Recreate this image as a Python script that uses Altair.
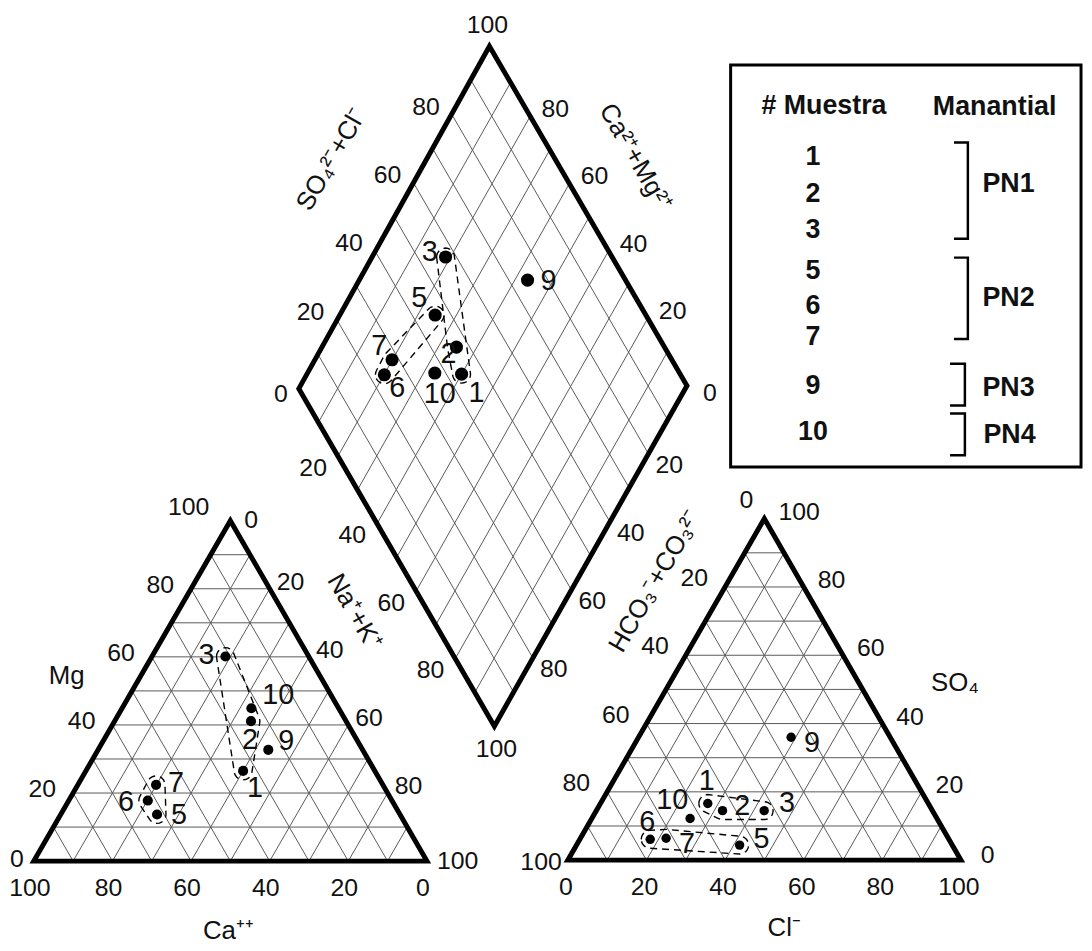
import altair as alt
import pandas as pd
import numpy as np

# ---------------- data (percent of meq/L) ----------------
samples = ["1", "2", "3", "5", "6", "7", "9", "10"]
groups = ["PN1", "PN1", "PN1", "PN2", "PN2", "PN2", "PN3", "PN4"]
# cations
ca_pct = [33.5, 24.2, 21.2, 61.8, 62.1, 57.7, 24.0, 22.2]
mg_pct = [26.5, 41.1, 60.1, 13.7, 17.8, 22.4, 32.7, 44.9]
nak_pct = [40.0, 34.7, 18.7, 24.5, 20.1, 19.9, 43.3, 32.9]
# anions
hco3_pct = [56.1, 53.4, 42.8, 54.1, 76.0, 71.8, 25.2, 62.8]
so4_pct = [16.6, 14.5, 14.5, 4.4, 6.1, 6.4, 36.0, 12.2]
cl_pct = [27.3, 32.1, 42.7, 41.5, 17.9, 21.8, 38.8, 25.0]

tick_values = [0, 20, 40, 60, 80, 100]
grid_values = [10, 20, 30, 40, 50, 60, 70, 80, 90]

legend_samples = ["1", "2", "3", "5", "6", "7", "9", "10"]
legend_groups = ["PN1", "PN2", "PN3", "PN4"]

# ---------------- layout (page pixels) ----------------
LT = ((34, 864), (430, 864), (232, 521))     # corners: Ca=100, Na+K=100, Mg=100
RT = ((572, 863), (968, 863), (770, 519))    # corners: HCO3=100, Cl=100, SO4=100
DL, DT, DR, DB = (301, 388), (493, 43), (692, 385), (498, 728)

FONT = "Liberation Sans"


def tern(tri, a, b, c):
    (ax, ay), (bx, by), (cx, cy) = tri
    return ((a * ax + b * bx + c * cx) / 100.0, (a * ay + b * by + c * cy) / 100.0)


def dia(s, c):
    # s = (SO4+Cl)/100, c = (Ca+Mg)/100
    return (DB[0] + s * (DR[0] - DB[0]) + c * (DL[0] - DB[0]),
            DB[1] + s * (DR[1] - DB[1]) + c * (DL[1] - DB[1]))


# ---------------- grid lines ----------------
grid = []
for tri in (LT, RT):
    for i in grid_values:
        for p, q in ((tern(tri, 100 - i, 0, i), tern(tri, 0, 100 - i, i)),
                     (tern(tri, i, 100 - i, 0), tern(tri, i, 0, 100 - i)),
                     (tern(tri, 100 - i, i, 0), tern(tri, 0, i, 100 - i))):
            grid.append(dict(x=p[0], y=p[1], x2=q[0], y2=q[1]))
for i in grid_values:
    for p, q in ((dia(i / 100, 0), dia(i / 100, 1)), (dia(0, i / 100), dia(1, i / 100))):
        grid.append(dict(x=p[0], y=p[1], x2=q[0], y2=q[1]))
grid_df = pd.DataFrame(grid)

# ---------------- outlines ----------------
border = []
for name, verts in (("lt", list(LT)), ("rt", list(RT)), ("dm", [DL, DT, DR, DB])):
    m = ((verts[0][0] + verts[1][0]) / 2, (verts[0][1] + verts[1][1]) / 2)
    path = [m] + verts[1:] + [verts[0], m]
    for k, (x, y) in enumerate(path):
        border.append(dict(shape=name, o=k, x=x, y=y))
border_df = pd.DataFrame(border)

# ---------------- sample positions ----------------
pos = {"lt": [], "rt": [], "dm": []}
for i in range(len(samples)):
    pos["lt"].append(tern(LT, ca_pct[i], nak_pct[i], mg_pct[i]))
    pos["rt"].append(tern(RT, hco3_pct[i], cl_pct[i], so4_pct[i]))
    pos["dm"].append(dia((100 - hco3_pct[i]) / 100, (100 - nak_pct[i]) / 100))

dot_size = {"lt": 105, "rt": 90, "dm": 175}
label_off = {
    "lt": [(12, 17), (-1, 19), (-19, -1), (22, 1), (-22, 2), (20, -2), (18, -9), (27, -13)],
    "rt": [(-1, -23), (20, -5), (23, -8), (22, -6), (-3, -17), (21, 6), (21, 6), (-18, -19)],
    "dm": [(15, 19), (-8, 7), (-16, -5), (-16, -17), (13, 13), (-13, -14), (21, 1), (5, 21)],
}
pts, plabs = [], []
for panel in ("lt", "rt", "dm"):
    for i, s in enumerate(samples):
        x, y = pos[panel][i]
        pts.append(dict(x=x, y=y, sz=dot_size[panel]))
        dx, dy = label_off[panel][i]
        plabs.append(dict(x=x + dx, y=y + dy, t=s))
pts_df = pd.DataFrame(pts)
plab_df = pd.DataFrame(plabs)


# ---------------- dashed group outlines ----------------
def convex_hull(points):
    p = sorted(set(points))
    if len(p) <= 2:
        return p

    def cross(o, a, b):
        return (a[0] - o[0]) * (b[1] - o[1]) - (a[1] - o[1]) * (b[0] - o[0])
    lo, up = [], []
    for q in p:
        while len(lo) >= 2 and cross(lo[-2], lo[-1], q) <= 0:
            lo.pop()
        lo.append(q)
    for q in reversed(p):
        while len(up) >= 2 and cross(up[-2], up[-1], q) <= 0:
            up.pop()
        up.append(q)
    return lo[:-1] + up[:-1]


hulls = []
R = 9
for panel in ("lt", "rt", "dm"):
    for g in ("PN1", "PN2"):
        cloud = []
        for i, gg in enumerate(groups):
            if gg == g:
                x, y = pos[panel][i]
                for a in np.linspace(0, 2 * np.pi, 24, endpoint=False):
                    cloud.append((round(x + R * np.cos(a), 3), round(y + R * np.sin(a), 3)))
        h = convex_hull(cloud)
        h = h + [h[0]]
        for k, (x, y) in enumerate(h):
            hulls.append(dict(grp=panel + g, o=k, x=x, y=y))
hull_df = pd.DataFrame(hulls)

# ---------------- tick labels ----------------
ticks = []


def add_axis(edge_fn, values, off_mid, off_first=None, off_last=None, skip=()):
    for v in values:
        if v in skip:
            continue
        ex, ey = edge_fn(v)
        if v == values[0] and off_first is not None:
            dx, dy = off_first
        elif v == values[-1] and off_last is not None:
            dx, dy = off_last
        else:
            dx, dy = off_mid
        ticks.append(dict(x=ex + dx, y=ey + dy, t=str(v)))


# left triangle
add_axis(lambda v: tern(LT, v, 100 - v, 0), tick_values, (-4, 27))
add_axis(lambda v: tern(LT, 100 - v, 0, v), tick_values, (-31, -4), (-17, -2), (-42, -14))
add_axis(lambda v: tern(LT, 0, v, 100 - v), tick_values, (21, -7), (21, -1), (31, 0))
# right triangle
add_axis(lambda v: tern(RT, 100 - v, v, 0), tick_values, (-2, 27))
add_axis(lambda v: tern(RT, v, 0, 100 - v), tick_values, (-31, -9), (-18, -19), (-27, 2))
add_axis(lambda v: tern(RT, 0, 100 - v, v), tick_values, (28, -7), (27, -5), (35, -7))
# diamond
add_axis(lambda v: dia(v / 100, 1), tick_values, (-27, -9), (-18, 5), (-4, -23))
add_axis(lambda v: dia(1, v / 100), tick_values, (25, -7), (23, 7), skip=(100,))
add_axis(lambda v: dia(0, 1 - v / 100), tick_values, (-25, 12), off_last=(2, 23), skip=(0,))
add_axis(lambda v: dia(1 - v / 100, 0), tick_values, (21, 11), skip=(0, 100))
tick_df = pd.DataFrame(ticks)

# ---------------- axis titles ----------------
title_df = pd.DataFrame([
    dict(x=334, y=157, t="SO₄²⁻+Cl⁻", a=300),
    dict(x=640, y=155, t="Ca²⁺+Mg²⁺", a=60),
    dict(x=357, y=613, t="Na⁺+K⁺", a=60),
    dict(x=660, y=582, t="HCO₃⁻+CO₃²⁻", a=300),
    dict(x=67, y=678, t="Mg", a=0),
    dict(x=230, y=934, t="Ca⁺⁺", a=0),
    dict(x=790, y=931, t="Cl⁻", a=0),
    dict(x=962, y=685, t="SO₄", a=0),
])

# ---------------- legend ----------------
box_df = pd.DataFrame([dict(x=736, y=62, x2=1089, y2=467)])
leg_rows_y = [155, 192, 228, 270, 305, 336, 385, 432]
leg_num_df = pd.DataFrame(dict(x=[819] * len(legend_samples), y=leg_rows_y, t=legend_samples))
leg_head_df = pd.DataFrame([dict(x=830, y=103, t="# Muestra"), dict(x=1002, y=104, t="Manantial")])
leg_grp_df = pd.DataFrame(dict(x=[1016, 1016, 1016, 1017], y=[182, 297, 387, 435], t=legend_groups))
brackets = []
for g, (top, bot, xv, xl) in zip(legend_groups, [(140, 237, 975, 961), (256, 338, 975, 961),
                                                  (363, 405, 972, 957), (413, 455, 972, 957)]):
    for k, (x, y) in enumerate([(xl, top), (xv, top), (xv, bot), (xl, bot)]):
        brackets.append(dict(g=g, o=k, x=x, y=y))
br_df = pd.DataFrame(brackets)

# ---------------- chart ----------------
X = alt.X("x:Q", scale=alt.Scale(domain=[8, 1092], nice=False, zero=False), axis=None)
Y = alt.Y("y:Q", scale=alt.Scale(domain=[8, 943], nice=False, zero=False, reverse=True), axis=None)

grid_layer = alt.Chart(grid_df).mark_rule(stroke="#5a5a5a", strokeWidth=1).encode(
    x=X, y=Y, x2="x2:Q", y2="y2:Q")
border_layer = alt.Chart(border_df).mark_line(color="black", strokeWidth=5, strokeJoin="miter").encode(
    x=X, y=Y, detail="shape:N", order="o:Q")
hull_layer = alt.Chart(hull_df).mark_line(color="black", strokeWidth=1.4, strokeDash=[7, 5]).encode(
    x=X, y=Y, detail="grp:N", order="o:Q")
pt_layer = alt.Chart(pts_df).mark_circle(color="black", opacity=1).encode(
    x=X, y=Y, size=alt.Size("sz:Q", scale=None))
plab_layer = alt.Chart(plab_df).mark_text(font=FONT, fontSize=29, color="#111", baseline="middle").encode(
    x=X, y=Y, text="t:N")
tick_layer = alt.Chart(tick_df).mark_text(font=FONT, fontSize=25, color="#111", baseline="middle").encode(
    x=X, y=Y, text="t:N")
title_layer = alt.Chart(title_df).mark_text(font=FONT, fontSize=26, color="#111", baseline="middle").encode(
    x=X, y=Y, text="t:N", angle=alt.Angle("a:Q", scale=None))
box_layer = alt.Chart(box_df).mark_rect(filled=False, stroke="black", strokeWidth=3).encode(
    x=X, y=Y, x2="x2:Q", y2="y2:Q")
br_layer = alt.Chart(br_df).mark_line(color="black", strokeWidth=2.5).encode(
    x=X, y=Y, detail="g:N", order="o:Q")
leg_head = alt.Chart(leg_head_df).mark_text(font=FONT, fontSize=27, fontWeight="bold", color="#111",
                                            baseline="middle").encode(x=X, y=Y, text="t:N")
leg_num = alt.Chart(leg_num_df).mark_text(font=FONT, fontSize=27, fontWeight="bold", color="#111",
                                          baseline="middle").encode(x=X, y=Y, text="t:N")
leg_grp = alt.Chart(leg_grp_df).mark_text(font=FONT, fontSize=27, fontWeight="bold", color="#111",
                                          baseline="middle").encode(x=X, y=Y, text="t:N")

chart = alt.layer(
    grid_layer, hull_layer, border_layer, pt_layer, plab_layer, tick_layer, title_layer,
    box_layer, br_layer, leg_head, leg_num, leg_grp,
).properties(
    width=1084, height=935, padding=0,
    autosize=alt.AutoSizeParams(type="none"),
).configure(background="white").configure_view(stroke=None)

chart.save("out.html", embed_options={"renderer": "svg", "actions": False})
